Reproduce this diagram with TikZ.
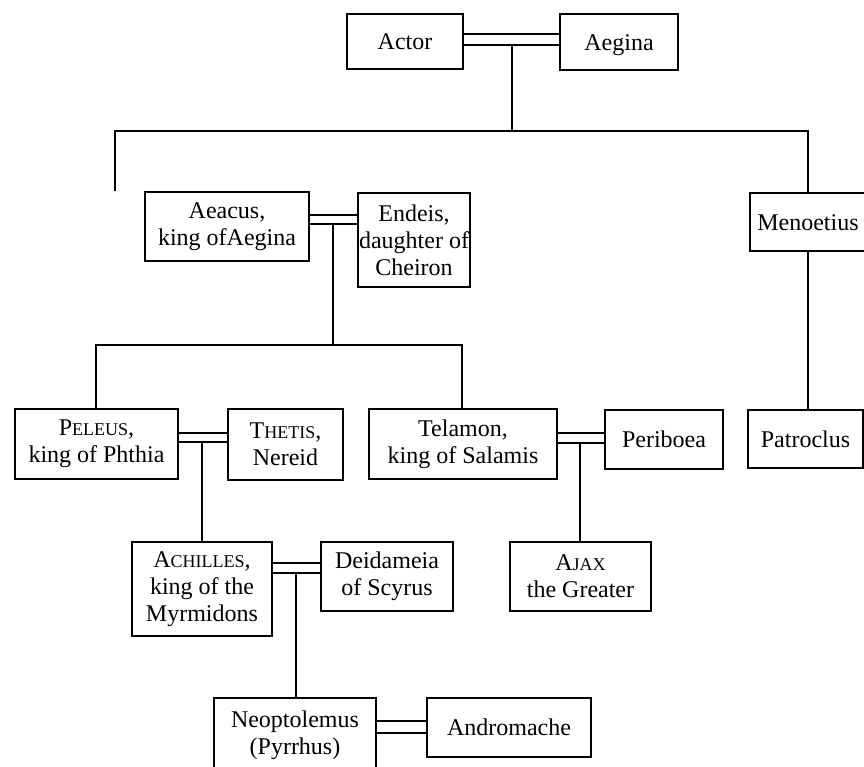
\documentclass[tikz,border=0pt]{standalone}
\usepackage{fontspec}
\setmainfont{Liberation Serif}
% small capitals built from reduced upper-case letters
\newcommand\smcaps[1]{{\fontsize{18}{27}\selectfont #1}}
\begin{document}
\begin{tikzpicture}[x=1pt,y=-1pt,
  person/.style={draw, line width=2.3pt, align=center, inner sep=0pt,
    font=\fontsize{24}{27}\selectfont},
  oneline/.style={person, text height=18pt, text depth=2pt},
  link/.style={line width=2.3pt}]
\useasboundingbox (0,0) rectangle (864,766);
\clip (0,0) rectangle (864,766);

% generation 1
\node[oneline, minimum width=116pt, minimum height=55pt] (actor) at (405,41.5) {Actor};
\node[oneline, minimum width=118pt, minimum height=56pt] (aegina) at (619,42) {Aegina};

% generation 2
\node[person, minimum width=164pt, minimum height=69pt] (aeacus) at (227,226.5) {Aeacus,\\king ofAegina};
\node[person, minimum width=112pt, minimum height=94pt] (endeis) at (414,240) {Endeis,\\daughter of\\Cheiron};
\node[oneline, minimum width=116pt, minimum height=58pt] (menoetius) at (808,222) {Menoetius};

% generation 3
\node[person, minimum width=163pt, minimum height=70pt] (peleus) at (96.5,444) {P\smcaps{ELEUS},\\king of Phthia};
\node[person, minimum width=115pt, minimum height=71pt] (thetis) at (285.5,444.5) {T\smcaps{HETIS},\\Nereid};
\node[person, minimum width=188pt, minimum height=70pt] (telamon) at (463,444) {Telamon,\\king of Salamis};
\node[oneline, minimum width=118pt, minimum height=59pt] (periboea) at (664,439.5) {Periboea};
\node[oneline, minimum width=115pt, minimum height=58pt] (patroclus) at (805.5,439) {Patroclus};

% generation 4
\node[person, minimum width=140pt, minimum height=94pt] (achilles) at (202,589) {A\smcaps{CHILLES},\\king of the\\Myrmidons};
\node[person, minimum width=132pt, minimum height=69pt] (deidameia) at (387,576.5) {Deidameia\\of Scyrus};
\node[person, minimum width=141pt, minimum height=69pt] (ajax) at (580.5,576.5) {A\smcaps{JAX}\\the Greater};

% generation 5
\node[person, minimum width=162pt, minimum height=74pt] (neoptolemus) at (295,735) {Neoptolemus\\(Pyrrhus)};
\node[oneline, minimum width=164pt, minimum height=59pt] (andromache) at (509,727.5) {Andromache};

% marriages (double lines) and their descent points
\draw[link] (actor.east |- 0,34) -- (aegina.west |- 0,34);
\draw[link] (actor.east |- 0,45) -- (aegina.west |- 0,45);
\coordinate (m1) at (512,45);
\coordinate (r1) at (512,131);

\draw[link] (aeacus.east |- 0,215) -- (endeis.west |- 0,215);
\draw[link] (aeacus.east |- 0,224) -- (endeis.west |- 0,224);
\coordinate (m2) at (333,224);
\coordinate (r2) at (333,345);

\draw[link] (peleus.east |- 0,433) -- (thetis.west |- 0,433);
\draw[link] (peleus.east |- 0,442) -- (thetis.west |- 0,442);
\coordinate (m3) at (202,442);

\draw[link] (telamon.east |- 0,433) -- (periboea.west |- 0,433);
\draw[link] (telamon.east |- 0,443) -- (periboea.west |- 0,443);
\coordinate (m4) at (580,443);

\draw[link] (achilles.east |- 0,563) -- (deidameia.west |- 0,563);
\draw[link] (achilles.east |- 0,573) -- (deidameia.west |- 0,573);
\coordinate (m5) at (296,573);

\draw[link] (neoptolemus.east |- 0,721) -- (andromache.west |- 0,721);
\draw[link] (neoptolemus.east |- 0,733) -- (andromache.west |- 0,733);

% descent lines
\draw[link] (m1) -- (r1);
\draw[link] (aeacus.north -| 115,0) |- (r1) -| (menoetius.north);
\draw[link] (menoetius.south) -- (patroclus.north -| menoetius.south);
\draw[link] (m2) -- (r2);
\draw[link] (peleus.north -| 96,0) |- (r2) -| (telamon.north -| 462,0);
\draw[link] (m3) -- (achilles.north -| m3);
\draw[link] (m4) -- (ajax.north -| m4);
\draw[link] (m5) -- (neoptolemus.north -| m5);
\end{tikzpicture}
\end{document}
